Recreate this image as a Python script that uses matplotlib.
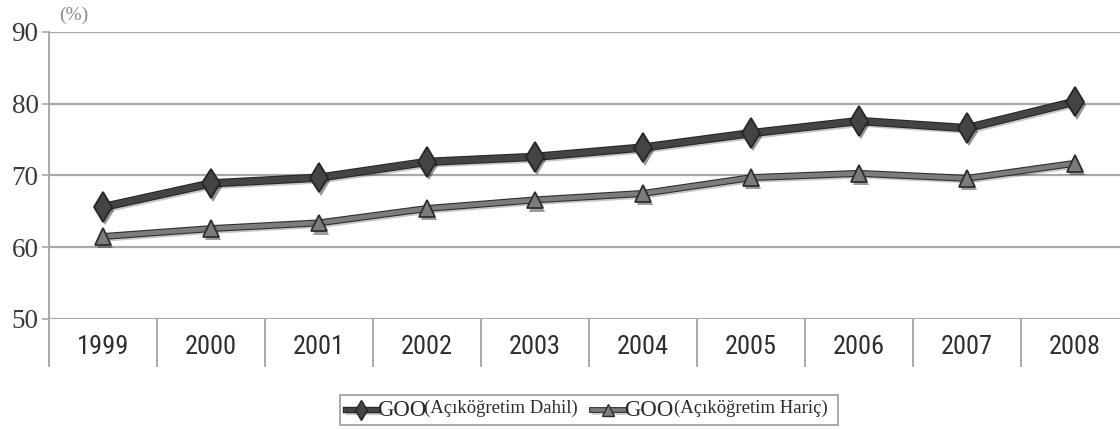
import matplotlib
matplotlib.use("Agg")
import matplotlib.pyplot as plt
from matplotlib import font_manager as fm
from matplotlib.lines import Line2D
from matplotlib.patches import Rectangle
import matplotlib.patheffects as pe

# ---------------- data ----------------
years = ["1999", "2000", "2001", "2002", "2003", "2004", "2005", "2006", "2007", "2008"]
goo_dahil = [65.6, 68.9, 69.7, 71.9, 72.6, 73.9, 75.9, 77.6, 76.6, 80.3]
goo_haric = [61.5, 62.6, 63.4, 65.4, 66.6, 67.5, 69.7, 70.3, 69.6, 71.7]
y_ticks = [50, 60, 70, 80, 90]
label_dahil_main = "GOO"
label_dahil_sub = "(Açıköğretim Dahil)"
label_haric_main = "GOO"
label_haric_sub = "(Açıköğretim Hariç)"
unit_label = "(%)"

# ---------------- fonts ----------------
entries = fm.fontManager.ttflist
names = {f.name for f in entries}
xprops = None
for cand in ["Liberation Sans Narrow", "Roboto Condensed", "Open Sans Condensed", "Noto Sans Condensed"]:
    if cand in names:
        xprops = dict(fontfamily=cand, fontsize=19)
        break
if xprops is None:
    cond = [f for f in entries if f.name == "DejaVu Sans" and "condensed" in str(f.stretch).lower()
            and str(f.weight) in ("400", "normal", "book", "regular") and f.style == "normal"]
    if cond:
        xprops = dict(fontproperties=fm.FontProperties(fname=cond[0].fname, size=16.5))
    else:
        xprops = dict(fontfamily="Liberation Sans", fontsize=15.5)
serif = "Liberation Serif" if "Liberation Serif" in names else "DejaVu Serif"

W, H = 1120, 430
fig = plt.figure(figsize=(W / 100, H / 100), dpi=100)
fig.patch.set_facecolor("white")

def fx(px):
    return px / W

def fy(py):
    return 1 - py / H

left, right, top, bottom = 49, 1129, 32, 319
ax = fig.add_axes([fx(left), fy(bottom), fx(right - left), (bottom - top) / H])
ax.set_facecolor("white")

x = list(range(len(years)))
ax.set_xlim(-0.5, len(years) - 0.5)
ax.set_ylim(50, 90)
ppu = (bottom - top) / 40

grid_c = "#a9a9a9"
for yv in y_ticks:
    ax.axhline(yv, color=grid_c, lw=1.6, zorder=1)

for s in ["top", "right", "bottom"]:
    ax.spines[s].set_visible(False)
ax.spines["left"].set_color(grid_c)
ax.spines["left"].set_linewidth(1.4)

ybot = 50 - (367 - bottom) / ppu
ax.vlines([k - 0.5 for k in range(len(years) + 1)], ybot, 50,
          colors=grid_c, lw=1.4, clip_on=False, zorder=1)

ax.set_yticks(y_ticks)
ax.set_yticklabels([str(v) for v in y_ticks], fontfamily=serif, fontsize=19.5, color="#3a3a3a")
ax.tick_params(axis="y", direction="out", length=5, width=1.2, color=grid_c, pad=2.5)
ax.set_xticks([])
for k, yr in enumerate(years):
    ax.text(k, 50 - (347 - bottom) / ppu, yr, ha="center", va="center",
            color="#2e2e2e", **xprops)

fig.text(fx(59), fy(15), unit_label, fontfamily=serif, fontsize=14, color="#8a8a8a",
         ha="left", va="center")

# ---------------- series ----------------
def effects(lw, edge):
    return [pe.SimpleLineShadow(offset=(1.5, -2), shadow_color="#000000", alpha=0.22),
            pe.Stroke(linewidth=lw + 1.6, foreground=edge), pe.Normal()]

c1, e1 = "#444444", "#262626"
c2, e2 = "#7c7c7c", "#2e2e2e"

ax.plot(x, goo_haric, color=c2, lw=3.4, solid_capstyle="round", solid_joinstyle="round",
        zorder=3, path_effects=effects(3.4, e2))
ax.plot(x, goo_haric, ls="none", marker="^", ms=12, mfc=c2, mec=e2, mew=1.3, zorder=4,
        path_effects=[pe.SimplePatchShadow(offset=(1.5, -2.5), alpha=0.45), pe.Normal()])

ax.plot(x, goo_dahil, color=c1, lw=4.4, solid_capstyle="round", solid_joinstyle="round",
        zorder=5, path_effects=effects(4.4, e1))
ax.plot(x, goo_dahil, ls="none", marker="d", ms=15, mfc=c1, mec=e1, mew=1.3, zorder=6,
        path_effects=[pe.SimplePatchShadow(offset=(1.5, -2.5), alpha=0.45), pe.Normal()])

# ---------------- legend (manual) ----------------
fig.add_artist(Rectangle((fx(340), fy(425)), fx(838 - 340), (425 - 395) / H,
                         transform=fig.transFigure, fc="white", ec="#9a9a9a", lw=1.2))
ly = fy(410)
fig.add_artist(Line2D([fx(346), fx(377)], [ly, ly], transform=fig.transFigure,
                      color=c1, lw=3.0, path_effects=effects(3.0, e1)))
fig.add_artist(Line2D([fx(361)], [ly], transform=fig.transFigure, ls="none",
                      marker="d", ms=10, mfc=c1, mec=e1))
fig.text(fx(377), ly, label_dahil_main, fontfamily=serif, fontsize=16.5, color="#2a2a2a",
         ha="left", va="center")
fig.text(fx(424), ly + 0.004, label_dahil_sub, fontfamily=serif, fontsize=13.5, color="#2a2a2a",
         ha="left", va="center")

fig.add_artist(Line2D([fx(592), fx(624)], [ly, ly], transform=fig.transFigure,
                      color=c2, lw=2.6, path_effects=effects(2.6, e2)))
fig.add_artist(Line2D([fx(608)], [ly], transform=fig.transFigure, ls="none",
                      marker="^", ms=9, mfc=c2, mec=e2))
fig.text(fx(624), ly, label_haric_main, fontfamily=serif, fontsize=16.5, color="#2a2a2a",
         ha="left", va="center")
fig.text(fx(674), ly + 0.004, label_haric_sub, fontfamily=serif, fontsize=13.5, color="#2a2a2a",
         ha="left", va="center")

fig.savefig("out.png", dpi=100, facecolor="white")
